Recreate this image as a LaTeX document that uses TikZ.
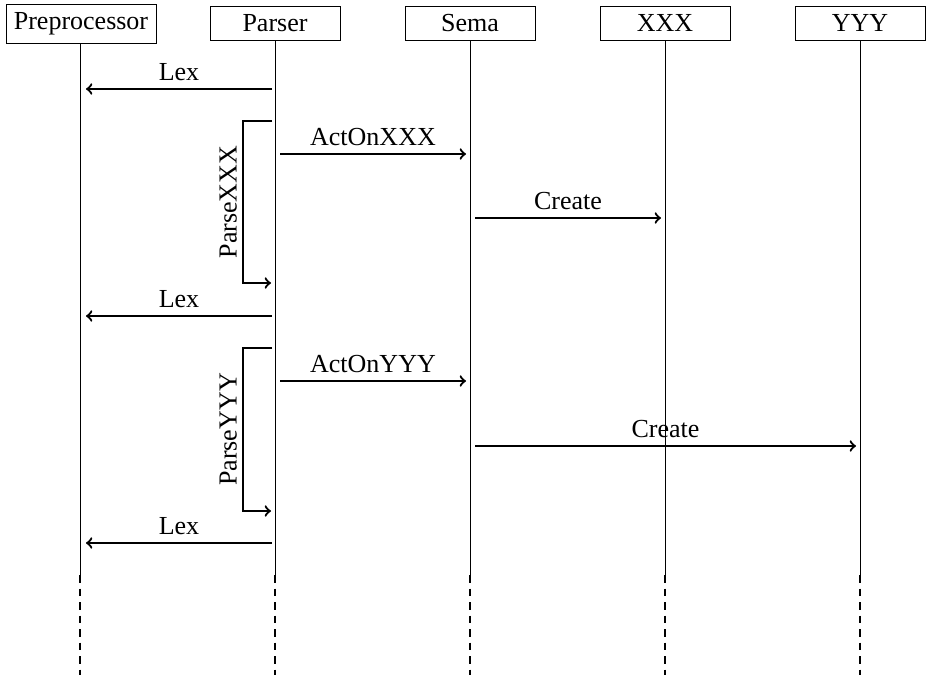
\documentclass[tikz,border=0pt]{standalone}
\usepackage{fontspec}
\setmainfont{Liberation Serif}
\begin{document}
\begin{tikzpicture}[x=0.5pt,y=-0.5pt,
  actor/.style={draw,line width=0.5pt,minimum width=65pt,minimum height=17pt,inner sep=0pt,font=\fontsize{13}{15}\selectfont},
  life/.style={line width=0.5pt},
  lifedash/.style={line width=1.2pt,dash pattern=on 3.75pt off 3pt},
  msg/.style={->,line width=1.1pt},
  lbl/.style={font=\fontsize{13}{15}\selectfont}]
\useasboundingbox (0,0) rectangle (937,685);
% actors
\node[actor,minimum width=75pt,minimum height=19.5pt] (pre) at (81,23.5) {Preprocessor};
\node[actor] (par) at (275,23) {Parser};
\node[actor] (sem) at (470,23) {Sema};
\node[actor] (xxx) at (665,23) {XXX};
\node[actor] (yyy) at (860,23) {YYY};
% lifelines
\foreach \n/\x in {pre/80,par/275,sem/470,xxx/665,yyy/860}{
  \coordinate (\n E) at (\x,575);
  \coordinate (\n D) at (\x,675);
  \draw[life] (\n.south -| \n E) -- (\n E);
  \draw[lifedash] (\n E) -- (\n D);
}
% message end points
\coordinate (l1s) at (272,89);  \coordinate (l1e) at (86,89);
\coordinate (l2s) at (272,316); \coordinate (l2e) at (86,316);
\coordinate (l3s) at (272,543); \coordinate (l3e) at (86,543);
\coordinate (a1s) at (280,154); \coordinate (a1e) at (466,154);
\coordinate (c1s) at (475,218); \coordinate (c1e) at (661,218);
\coordinate (a2s) at (280,381); \coordinate (a2e) at (466,381);
\coordinate (c2s) at (475,446); \coordinate (c2e) at (856,446);
\coordinate (b1a) at (272,121); \coordinate (b1b) at (243,121);
\coordinate (b1c) at (243,283); \coordinate (b1d) at (271,283);
\coordinate (b2a) at (272,348); \coordinate (b2b) at (243,348);
\coordinate (b2c) at (243,511); \coordinate (b2d) at (271,511);
% messages
\draw[msg] (l1s) -- node[lbl,above]{Lex} (l1e);
\draw[msg] (l2s) -- node[lbl,above]{Lex} (l2e);
\draw[msg] (l3s) -- node[lbl,above]{Lex} (l3e);
\draw[msg] (a1s) -- node[lbl,above]{ActOnXXX} (a1e);
\draw[msg] (c1s) -- node[lbl,above]{Create} (c1e);
\draw[msg] (a2s) -- node[lbl,above]{ActOnYYY} (a2e);
\draw[msg] (c2s) -- node[lbl,above]{Create} (c2e);
% self calls
\draw[msg] (b1a) -- (b1b) -- node[lbl,midway,rotate=90,anchor=south,inner sep=2.5pt]{ParseXXX} (b1c) -- (b1d);
\draw[msg] (b2a) -- (b2b) -- node[lbl,midway,rotate=90,anchor=south,inner sep=2.5pt]{ParseYYY} (b2c) -- (b2d);
\end{tikzpicture}
\end{document}
